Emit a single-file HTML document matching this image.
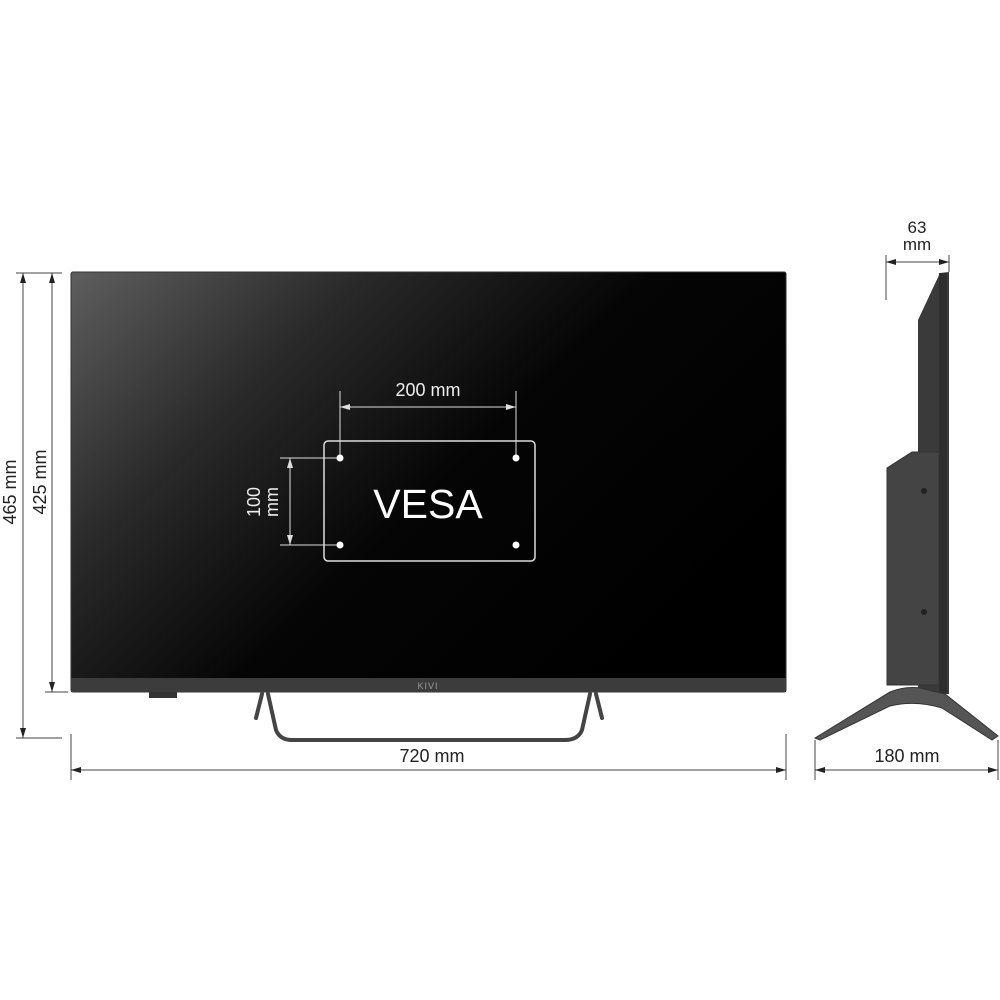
<!DOCTYPE html>
<html><head><meta charset="utf-8"><style>body{margin:0;background:#fff}svg{display:block}text{font-family:"Liberation Sans",sans-serif}</style></head><body>
<svg width="1000" height="1000" viewBox="0 0 1000 1000">
<defs>
<linearGradient id="g" x1="0" y1="0" x2="1" y2="0.6">
<stop offset="0" stop-color="#5e5e5e"/><stop offset="0.3" stop-color="#2a2a2a"/><stop offset="0.6" stop-color="#050505"/><stop offset="1" stop-color="#000"/></linearGradient>
<marker id="a" markerWidth="10" markerHeight="6" refX="10" refY="3" orient="auto-start-reverse" markerUnits="userSpaceOnUse"><path d="M0,0L10,3L0,6z" fill="#222"/></marker>
<marker id="w" markerWidth="10" markerHeight="6" refX="10" refY="3" orient="auto-start-reverse" markerUnits="userSpaceOnUse"><path d="M0,0L10,3L0,6z" fill="#ddd"/></marker>
</defs>
<rect x="71" y="272" width="715" height="420" rx="2" fill="url(#g)" stroke="#333"/>
<rect x="71" y="678" width="715" height="14" fill="#3c3c3c"/>
<text x="428" y="689" font-size="9" fill="#999" text-anchor="middle" letter-spacing="1">KIVI</text>
<rect x="149" y="692" width="28" height="6" fill="#333"/>
<path d="M262,694 L256,718 M268,694 L276,730 Q280,740 292,740 L565,740 Q578,740 582,730 L590,694 M596,694 L602,718" stroke="#444" stroke-width="4" fill="none" stroke-linecap="round"/>
<g stroke="#ddd" fill="none" stroke-width="1">
<rect x="324" y="441" width="211" height="120" rx="4" stroke-width="1.5"/>
<line x1="340" y1="391" x2="340" y2="458"/><line x1="516" y1="391" x2="516" y2="458"/>
<line x1="340" y1="407" x2="516" y2="407" marker-start="url(#w)" marker-end="url(#w)"/>
<line x1="280" y1="458" x2="340" y2="458"/><line x1="280" y1="545" x2="340" y2="545"/>
<line x1="290" y1="458" x2="290" y2="545" marker-start="url(#w)" marker-end="url(#w)"/>
</g>
<g fill="#fff"><circle cx="340" cy="458" r="3.5"/><circle cx="516" cy="458" r="3.5"/><circle cx="340" cy="545" r="3.5"/><circle cx="516" cy="545" r="3.5"/></g>
<text x="428" y="396" font-size="18" fill="#eee" text-anchor="middle">200 mm</text>
<text x="428" y="518" font-size="41" fill="#fff" text-anchor="middle">VESA</text>
<g transform="translate(260,502) rotate(-90)"><text x="0" y="0" font-size="18" fill="#eee" text-anchor="middle">100</text><text x="0" y="18" font-size="18" fill="#eee" text-anchor="middle">mm</text></g>
<g stroke="#444" stroke-width="1">
<line x1="16" y1="273" x2="62" y2="273"/><line x1="16" y1="738" x2="62" y2="738"/><line x1="45" y1="692" x2="68" y2="692"/>
<line x1="23" y1="273" x2="23" y2="738" marker-start="url(#a)" marker-end="url(#a)"/>
<line x1="52" y1="273" x2="52" y2="692" marker-start="url(#a)" marker-end="url(#a)"/>
<line x1="71" y1="734" x2="71" y2="780"/><line x1="786" y1="734" x2="786" y2="780"/>
<line x1="71" y1="770" x2="786" y2="770" marker-start="url(#a)" marker-end="url(#a)"/>
<line x1="886" y1="255" x2="886" y2="300"/><line x1="949" y1="255" x2="949" y2="272"/>
<line x1="886" y1="262" x2="949" y2="262" marker-start="url(#a)" marker-end="url(#a)"/>
<line x1="815" y1="740" x2="815" y2="780"/><line x1="998" y1="740" x2="998" y2="780"/>
<line x1="815" y1="770" x2="998" y2="770" marker-start="url(#a)" marker-end="url(#a)"/>
</g>
<text transform="translate(16,492) rotate(-90)" font-size="18" fill="#222" text-anchor="middle">465 mm</text>
<text transform="translate(46,482) rotate(-90)" font-size="18" fill="#222" text-anchor="middle">425 mm</text>
<text x="432" y="762" font-size="18" fill="#222" text-anchor="middle">720 mm</text>
<text x="907" y="762" font-size="18" fill="#222" text-anchor="middle">180 mm</text>
<text x="917" y="233" font-size="17" fill="#222" text-anchor="middle">63</text>
<text x="917" y="250" font-size="17" fill="#222" text-anchor="middle">mm</text>
<path d="M918,320 L940,273 L949,272 L949,694 L918,694 Z" fill="#3a3a3a"/>
<rect x="939" y="273" width="8" height="420" fill="#2e2e2e"/>
<path d="M887,468 L912,452 L939,452 L939,685 L887,685 Z" fill="#444" stroke="#333"/>
<circle cx="924" cy="491" r="3" fill="#222"/><circle cx="924" cy="612" r="3" fill="#222"/>
<path d="M815,738 L890,692 Q905,686 920,688 L945,694 L998,736 L992,740 L942,708 Q915,700 890,706 L820,740 Z" fill="#555" stroke="#333"/>
</svg>
</body></html>
